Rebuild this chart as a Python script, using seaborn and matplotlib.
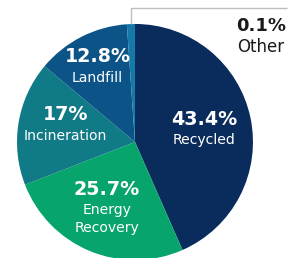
import numpy as np
import seaborn as sns
import matplotlib.pyplot as plt

# Waste fate shares (drawn share for "Other")
categories = ["Recycled", "Energy\nRecovery", "Incineration", "Landfill", "Other"]
pct_labels = ["43.4%", "25.7%", "17%", "12.8%", "0.1%"]
drawn_share = [43.4, 25.7, 17.0, 12.8, 1.1]
colors = ["#0a2c5c", "#07a46c", "#107b87", "#0c5487", "#1479a7"]

sns.set_theme(style="white")
plt.rcParams["font.family"] = ["DejaVu Sans"]

fig = plt.figure(figsize=(3.03, 2.58), dpi=100)
ax = fig.add_axes([0, 0, 1, 1])

wedges, _ = ax.pie(drawn_share, colors=colors, startangle=90, counterclock=False,
                   wedgeprops=dict(linewidth=0))

# labels inside the wedges: bold percent above, name line(s) below
label_r = [0.6, 0.62, 0.6, 0.7]
nudge = [2.5, -1, -5, -1]  # px, small vertical tweaks of each label block
for w, pct, name, r, dy in zip(wedges[:4], pct_labels[:4], categories[:4], label_r, nudge):
    mid = np.deg2rad((w.theta1 + w.theta2) / 2)
    x, y = r * np.cos(mid), r * np.sin(mid)
    lines = name.split("\n")
    top = dy - (21 + 18 * (len(lines) - 1)) / 2  # px below anchor, percent centre
    ax.annotate(pct, (x, y), xytext=(0, -top), textcoords="offset pixels",
                ha="center", va="center", color="white", fontsize=13.7, fontweight="bold")
    for i, line in enumerate(lines):
        ax.annotate(line, (x, y), xytext=(0, -(top + 21 + 18 * i)), textcoords="offset pixels",
                    ha="center", va="center", color="white", fontsize=10.1)

# "Other" callout with leader line
w = wedges[4]
mid = np.deg2rad((w.theta1 + w.theta2) / 2)
x0, y0 = np.cos(mid), np.sin(mid)
ax.plot([x0, x0, 1.288], [y0, 1.133, 1.133], color="#bdbdbd", lw=1, solid_capstyle="butt")
ax.text(1.068, 0.983, pct_labels[4], ha="center", va="center", fontsize=13,
        fontweight="bold", color="#1a1a1a")
ax.text(1.068, 0.805, categories[4], ha="center", va="center", fontsize=12, color="#1a1a1a")

ax.set_xlim(-1.144, 1.424)
ax.set_ylim(-0.983, 1.203)
ax.set_aspect("auto")
ax.axis("off")

fig.savefig("out.png", dpi=100)
